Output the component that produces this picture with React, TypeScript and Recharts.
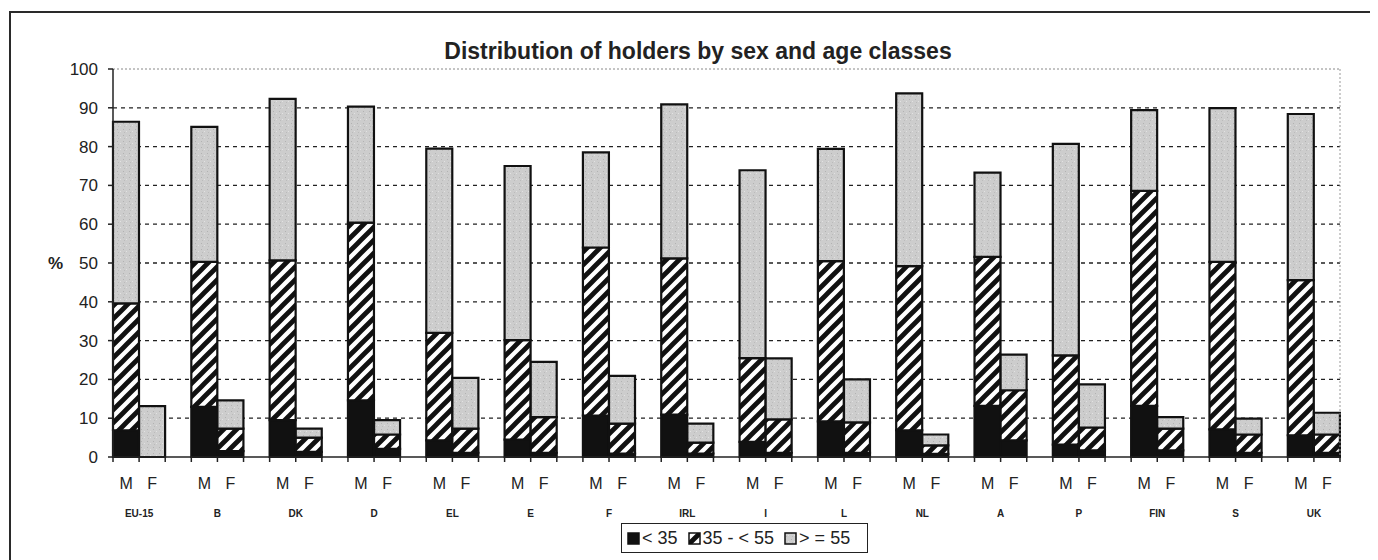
import React from 'react';
import { BarChart, Bar, XAxis, YAxis, CartesianGrid, ReferenceLine } from 'recharts';

// countries in chart order
const countries = ['EU-15', 'B', 'DK', 'D', 'EL', 'E', 'F', 'IRL', 'I', 'L', 'NL', 'A', 'P', 'FIN', 'S', 'UK'];

// % of holders, men
const maleUnder35 = [6.9, 12.9, 9.5, 14.6, 4.3, 4.5, 10.7, 10.9, 3.9, 9.2, 6.9, 13.2, 3.2, 13.2, 7.1, 5.6];
const male35to55 = [32.7, 37.4, 41.2, 45.8, 27.7, 25.6, 43.3, 40.3, 21.6, 41.3, 42.3, 38.4, 23.0, 55.4, 43.2, 40.0];
const male55plus = [46.8, 34.8, 41.6, 29.9, 47.5, 44.9, 24.5, 39.7, 48.4, 28.9, 44.5, 21.7, 54.5, 20.8, 39.6, 42.8];

// % of holders, women
const femaleUnder35 = [0, 1.5, 1.3, 2.1, 1.1, 1.1, 0.9, 0.9, 1.1, 1.1, 0.8, 4.3, 1.7, 1.7, 1.1, 1.1];
const female35to55 = [0, 5.8, 3.7, 3.7, 6.2, 9.2, 7.7, 2.8, 8.6, 7.8, 2.2, 12.9, 5.9, 5.6, 4.7, 4.7];
const female55plus = [13.1, 7.3, 2.3, 3.7, 13.1, 14.2, 12.3, 4.9, 15.7, 11.1, 2.8, 9.2, 11.1, 3.0, 4.1, 5.6];

const seriesKeys = ['young', 'mid', 'old'];
const seriesNames = ['< 35', '35 - < 55', '> = 55'];
const seriesFills = ['#111111', 'url(#hatch)', 'url(#speckle)'];
const yTicks = [0, 10, 20, 30, 40, 50, 60, 70, 80, 90, 100];
const gridValues = [10, 20, 30, 40, 50, 60, 70, 80, 90];

// one slot for M, one for F, and an empty slot between countries
const rows: any[] = [];
countries.forEach((c, i) => {
  rows.push({ slot: `${c}|M`, sex: 'M', country: c, young: maleUnder35[i], mid: male35to55[i], old: male55plus[i] });
  rows.push({ slot: `${c}|F`, sex: 'F', country: c, young: femaleUnder35[i], mid: female35to55[i], old: female55plus[i] });
  if (i < countries.length - 1) rows.push({ slot: `${c}|gap`, sex: '', country: '' });
});

const CHART_W = 1362;
const CHART_H = 552;
const MARGIN = { top: 61, right: 29, left: 0, bottom: 0 };
const Y_AXIS_W = 105;
const RIGHT_AXIS_W = 1;
const X_AXIS_H = 103;
const bandWidth = (CHART_W - MARGIN.left - MARGIN.right - Y_AXIS_W - RIGHT_AXIS_W) / rows.length;

const font = "'Liberation Sans', Arial, sans-serif";

function CategoryTick(props: any) {
  const { x, y, index } = props;
  const row = rows[index];
  const half = bandWidth / 2;
  return (
    <g>
      <line x1={x - half} x2={x - half} y1={y} y2={y + 5} stroke="#222" strokeWidth={1.5} />
      {index === rows.length - 1 && (
        <line x1={x + half} x2={x + half} y1={y} y2={y + 5} stroke="#222" strokeWidth={1.5} />
      )}
      {row && row.sex && (
        <text x={x} y={y + 32} textAnchor="middle" fontSize={16} fill="#222" fontFamily={font}>
          {row.sex}
        </text>
      )}
      {row && row.sex === 'M' && (
        <text x={x + half} y={y + 60} textAnchor="middle" fontSize={10} fontWeight="bold" fill="#222" fontFamily={font}>
          {row.country}
        </text>
      )}
    </g>
  );
}

function LegendSwatch({ fill }: { fill: string }) {
  return (
    <svg width={13} height={13} style={{ display: 'block', marginRight: 2 }}>
      <rect x={1} y={1} width={11} height={11} fill={fill} stroke="#111" strokeWidth={1.5} />
    </svg>
  );
}

export default function App() {
  return (
    <div style={{ position: 'relative', width: CHART_W, height: CHART_H, fontFamily: font, background: '#fff' }}>
      <div
        style={{
          position: 'absolute',
          left: 1,
          top: 3,
          width: 1366,
          height: 548,
          borderLeft: '2px solid #2a2a2a',
          borderTop: '2px solid #2a2a2a',
        }}
      />
      <div
        style={{
          position: 'absolute',
          left: 0,
          width: 1380,
          top: 31,
          textAlign: 'center',
          fontSize: 23,
          lineHeight: '24px',
          fontWeight: 'bold',
          color: '#222',
        }}
      >
        Distribution of holders by sex and age classes
      </div>
      <BarChart width={CHART_W} height={CHART_H} data={rows} margin={MARGIN} barCategoryGap={0} barGap={0}>
        <defs>
          <pattern id="hatch" patternUnits="userSpaceOnUse" width={13} height={13}>
            <rect width={13} height={13} fill="#fff" />
            <path d="M-1,14 L14,-1 M-4,4 L4,-4 M9,17 L17,9" stroke="#111" strokeWidth={4.8} />
          </pattern>
          <pattern id="speckle" patternUnits="userSpaceOnUse" width={6} height={6}>
            <rect width={6} height={6} fill="#cdcdcd" />
            <rect x={1} y={1} width={1} height={1} fill="#b2b2b2" />
            <rect x={4} y={3} width={1} height={1} fill="#e2e2e2" />
            <rect x={2} y={4} width={1} height={1} fill="#bbbbbb" />
          </pattern>
        </defs>
        <CartesianGrid vertical={false} horizontalValues={gridValues} stroke="#222" strokeDasharray="4 4" strokeWidth={1.3} />
        <XAxis
          dataKey="slot"
          height={X_AXIS_H}
          interval={0}
          tickSize={0}
          tickMargin={0}
          tickLine={false}
          axisLine={{ stroke: '#222', strokeWidth: 1.5 }}
          tick={<CategoryTick />}
        />
        <YAxis
          width={Y_AXIS_W}
          domain={[0, 100]}
          ticks={yTicks}
          interval={0}
          tickSize={5}
          tickMargin={10}
          axisLine={{ stroke: '#222', strokeWidth: 1.5 }}
          tickLine={{ stroke: '#222', strokeWidth: 1.5 }}
          tick={{ fontSize: 17, fill: '#222', fontFamily: font }}
          label={{ value: '%', position: 'insideLeft', offset: 40, fontSize: 17, fill: '#222', fontWeight: 'bold' }}
        />
        <YAxis
          yAxisId="right"
          orientation="right"
          width={RIGHT_AXIS_W}
          domain={[0, 100]}
          tick={false}
          tickLine={false}
          axisLine={{ stroke: '#999', strokeDasharray: '2 2' }}
        />
        <ReferenceLine y={100} stroke="#888" strokeDasharray="2 2" />
        {seriesKeys.map((k, i) => (
          <Bar
            key={k}
            dataKey={k}
            name={seriesNames[i]}
            stackId="age"
            fill={seriesFills[i]}
            stroke="#111"
            strokeWidth={2.2}
            isAnimationActive={false}
          />
        ))}
      </BarChart>
      <div
        style={{
          position: 'absolute',
          left: 613,
          top: 515,
          width: 247,
          height: 30,
          border: '1.5px solid #222',
          display: 'flex',
          alignItems: 'center',
          paddingLeft: 5,
          boxSizing: 'border-box',
          fontSize: 18,
          color: '#222',
          background: '#fff',
        }}
      >
        {seriesNames.map((n, i) => (
          <div key={n} style={{ display: 'flex', alignItems: 'center', marginRight: 10 }}>
            <LegendSwatch fill={seriesFills[i]} />
            <span>{n}</span>
          </div>
        ))}
      </div>
    </div>
  );
}
